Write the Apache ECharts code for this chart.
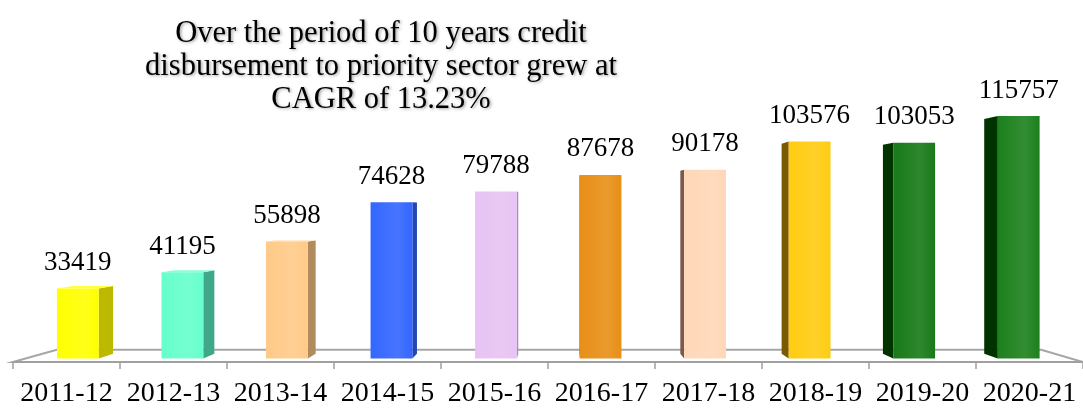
<!DOCTYPE html>
<html>
<head>
<meta charset="utf-8">
<script src="https://cdn.jsdelivr.net/npm/echarts@6/dist/echarts.min.js"></script>
<style>
html,body{margin:0;padding:0;background:#fff;}
#chart{width:1083px;height:408px;}
</style>
</head>
<body>
<div id="chart"></div>
<script>
const categories = ['2011-12','2012-13','2013-14','2014-15','2015-16','2016-17','2017-18','2018-19','2019-20','2020-21'];
const values = [33419, 41195, 55898, 74628, 79788, 87678, 90178, 103576, 103053, 115757];
const frontColors = ['#FFFF00','#66FFCC','#FFCA88','#3366FF','#E6C3F3','#E88F17','#FFD7B8','#FFCC11','#177A17','#1C801C'];
const sideColors  = ['#BDB800','#40A888','#B08B5E','#2247B5','#A98FB3','#A8650F','#7A5A48','#7A5A00','#003300','#003300'];
const titleText = 'Over the period of 10 years credit\ndisbursement to priority sector grew at\nCAGR of 13.23%';

// perspective parameters (vanishing point and depth factors)
const VX = 560, VY = 208, F_BAR = 0.977, DEPTH = 0.031, F_FLOOR = 0.92, BAR_FRAC = 0.40;
function proj(x, y, f) { return [VX + (x - VX) * f, VY + (y - VY) * f]; }
function lighten(hex, a) {
  const n = parseInt(hex.slice(1), 16);
  let r = (n >> 16) & 255, g = (n >> 8) & 255, b = n & 255;
  r = Math.round(r + (255 - r) * a); g = Math.round(g + (255 - g) * a); b = Math.round(b + (255 - b) * a);
  return 'rgb(' + r + ',' + g + ',' + b + ')';
}

const chart = echarts.init(document.getElementById('chart'));

function renderFloor(params, api) {
  const cs = params.coordSys;
  const yF = cs.y + cs.height, xL = cs.x, xR = cs.x + cs.width;
  const bl = proj(xL, yF, F_FLOOR), br = proj(xR, yF, F_FLOOR);
  return {
    type: 'polygon', silent: true,
    shape: { points: [[xL, yF], bl, br, [xR, yF]] },
    style: { fill: '#FFFFFF', stroke: '#A6A6A6', lineWidth: 2 }
  };
}

function renderBar(params, api) {
  const i = api.value(0), v = api.value(1);
  const base = api.coord([i, 0]);
  const topPt = api.coord([i, v]);
  const bw = api.size([1, 0])[0] * BAR_FRAC;
  const xl = base[0] - bw / 2, xr = base[0] + bw / 2;
  const yb = base[1], yt = topPt[1];
  const F2 = F_BAR * (1 - DEPTH);
  const FLt = proj(xl, yt, F_BAR), FRt = proj(xr, yt, F_BAR), FLb = proj(xl, yb, F_BAR), FRb = proj(xr, yb, F_BAR);
  const BLt = proj(xl, yt, F2), BRt = proj(xr, yt, F2), BLb = proj(xl, yb, F2), BRb = proj(xr, yb, F2);
  const children = [];
  const col = frontColors[i], side = sideColors[i];
  const cx = (FLt[0] + FRt[0]) / 2;
  if (cx < VX) {
    children.push({ type: 'polygon', shape: { points: [FRt, BRt, BRb, FRb] }, style: { fill: side } });
  } else {
    children.push({ type: 'polygon', shape: { points: [FLt, BLt, BLb, FLb] }, style: { fill: side } });
  }
  if (FLt[1] > VY) {
    children.push({ type: 'polygon', shape: { points: [FLt, FRt, BRt, BLt] }, style: { fill: lighten(col, 0.25) } });
  }
  children.push({
    type: 'rect',
    shape: { x: FLt[0], y: FLt[1], width: FRt[0] - FLt[0], height: FLb[1] - FLt[1] },
    style: {
      fill: new echarts.graphic.LinearGradient(0, 0, 1, 0, [
        { offset: 0, color: col },
        { offset: 0.65, color: lighten(col, 0.1) },
        { offset: 1, color: col }
      ])
    },
    textContent: {
      style: {
        text: String(values[i]),
        fontFamily: 'Liberation Serif',
        fontSize: 27,
        fill: '#000'
      }
    },
    textConfig: { position: 'top', distance: 12 }
  });
  return { type: 'group', children: children };
}

chart.setOption({
  animation: false,
  backgroundColor: '#FFFFFF',
  title: {
    text: titleText,
    left: 376,
    top: 12,
    textAlign: 'center',
    textStyle: {
      fontFamily: 'Liberation Serif',
      fontSize: 30.5,
      fontWeight: 'normal',
      lineHeight: 33,
      color: '#000',
      textShadowColor: 'rgba(0,0,0,0.35)',
      textShadowBlur: 3,
      textShadowOffsetX: 1.5,
      textShadowOffsetY: 1.5
    }
  },
  grid: { left: 13, top: 62, width: 1077, bottom: 44 },
  xAxis: {
    type: 'category',
    data: categories,
    boundaryGap: true,
    axisLine: { show: true, lineStyle: { color: '#A0A0A0', width: 2 } },
    axisTick: { show: true, length: 7, interval: 0, lineStyle: { color: '#A0A0A0', width: 1.5 } },
    axisLabel: { fontFamily: 'Liberation Serif', fontSize: 28, color: '#000', margin: 18, interval: 0 },
    z: 1
  },
  yAxis: { type: 'value', min: 0, max: 140000, show: false, splitLine: { show: false } },
  series: [
    { type: 'custom', name: 'floor', renderItem: renderFloor, data: [[0, 0]], silent: true, z: 0, clip: false },
    { type: 'custom', name: 'Credit disbursement', renderItem: renderBar, data: values.map((v, i) => [i, v]), z: 2, clip: false }
  ]
});
</script>
</body>
</html>
